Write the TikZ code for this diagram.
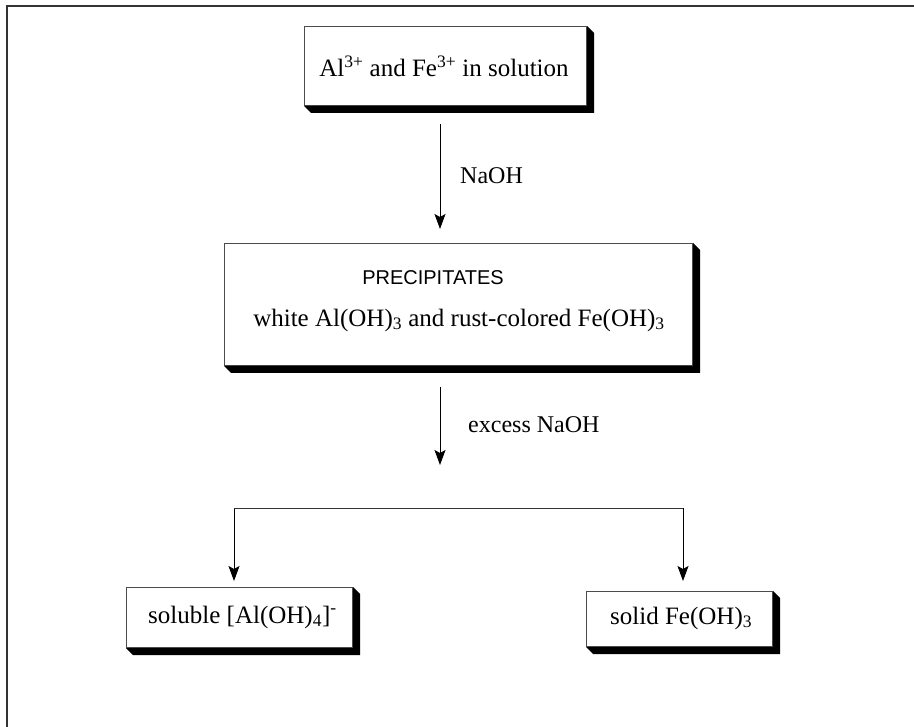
\documentclass[tikz,border=0pt]{standalone}
\usepackage{fontspec}
\setmainfont{Liberation Serif}
\newfontfamily\capsfont{Liberation Sans}
\usetikzlibrary{arrows.meta}
\begin{document}
\begin{tikzpicture}[x=1pt,y=-1pt,
  box/.style={draw=black!70, line width=1pt, fill=white, inner sep=0pt},
  arr/.style={-{Stealth[length=15pt,width=11pt,inset=3pt]}, line width=0.9pt},
  txt/.style={font=\fontsize{25}{29}\selectfont, inner sep=0pt},
  lbl/.style={font=\fontsize{24}{28}\selectfont, anchor=west, inner sep=0pt},
  frame/.style={line width=2pt, black!80}]
\useasboundingbox (0,0) rectangle (914,727);
\draw[frame] (7,727) -- (7,6.5) -- (914,6.5);
\def\shd#1{\fill[black] (#1.south west) -- ++(7,7) -- ([shift={(7,7)}]#1.south east) -- ([shift={(7,7)}]#1.north east) -- (#1.north east) -- (#1.south east) -- cycle;}
% box 1
\node[box, anchor=north west, minimum width=282pt, minimum height=79pt] (b1) at (304,26) {};
\shd{b1}
\node[txt] (t1) at (444,66) {Al\textsuperscript{3+} and Fe\textsuperscript{3+} in solution};
% arrow 1
\coordinate (a1s) at (440,124);
\coordinate (a1e) at (440,229);
\draw[arr] (a1s) -- (a1e);
\node[lbl] (l1) at (460,176) {NaOH};
% box 2
\node[box, anchor=north west, minimum width=468pt, minimum height=122pt] (b2) at (224,243) {};
\shd{b2}
\node[txt, font=\capsfont\fontsize{20}{24}\selectfont] (t2a) at (433,278) {PRECIPITATES};
\node[txt] (t2b) at (459,320) {white Al(OH)\textsubscript{3} and rust-colored Fe(OH)\textsubscript{3}};
% arrow 2
\coordinate (a2s) at (440,387);
\coordinate (a2e) at (440,465);
\draw[arr] (a2s) -- (a2e);
\node[lbl] (l2) at (468,425) {excess NaOH};
% bracket
\coordinate (k1) at (234,508);
\coordinate (k2) at (683,508);
\coordinate (kl) at (234,581);
\coordinate (kr) at (683,581);
\draw[arr] (k1) -- (kl);
\draw[arr] (k2) -- (kr);
\draw[line width=0.9pt, black!80] (k1) -- (k2);
% bottom boxes
\node[box, anchor=north west, minimum width=226pt, minimum height=60pt] (b3) at (126,587) {};
\shd{b3}
\node[txt, anchor=west] (t3) at (148,617) {soluble [Al(OH)\textsubscript{4}]\textsuperscript{-}};
\node[box, anchor=north west, minimum width=186pt, minimum height=55pt] (b4) at (586,591) {};
\shd{b4}
\node[txt, anchor=west] (t4) at (610,618) {solid Fe(OH)\textsubscript{3}};
\end{tikzpicture}
\end{document}
